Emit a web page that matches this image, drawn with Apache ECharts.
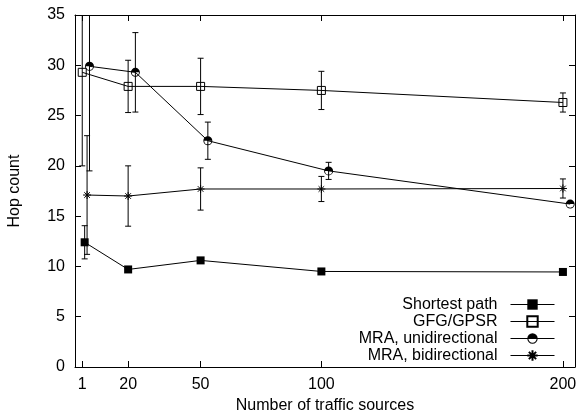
<!DOCTYPE html>
<html>
<head>
<meta charset="utf-8">
<script src="https://cdn.jsdelivr.net/npm/echarts@6/dist/echarts.min.js"></script>
<style>
  html, body { margin: 0; padding: 0; background: #fff; }
  #chart { width: 578px; height: 416px; }
</style>
</head>
<body>
<div id="chart"></div>
<script>
// x tick labels
const xTicks = [1, 20, 50, 100, 200];

// each series: x positions (slightly offset in the original plot), mean, error half-width
const shortX = [2, 20, 50, 100, 200];
const shortY = [12.4, 9.7, 10.6, 9.5, 9.45];
const shortErr = [1.65, 0, 0, 0, 0];

const gfgX = [1, 20, 50, 100, 200];
const gfgY = [29.3, 27.9, 27.9, 27.5, 26.3];
const gfgErr = [9.3, 2.6, 2.8, 1.9, 0.95];

const uniX = [4, 23, 53, 103, 203];
const uniY = [29.9, 29.3, 22.5, 19.5, 16.2];
const uniErr = [10.4, 3.95, 1.85, 0.85, 0];

const biX = [3, 20, 50, 100, 200];
const biY = [17.1, 17.0, 17.7, 17.7, 17.75];
const biErr = [5.9, 3.0, 2.1, 1.25, 0.95];

const FONT = 'Liberation Sans, Arial, sans-serif';

// half-filled circle: ring + top half disk (nonzero winding)
const HALF_CIRCLE = 'path://M0 10 A10 10 0 1 1 20 10 A10 10 0 1 1 0 10 Z ' +
  'M2 10 A8 8 0 1 0 18 10 A8 8 0 1 0 2 10 Z ' +
  'M2 10 A8 8 0 0 1 18 10 L2 10 Z';
const STAR = 'path://M0 5 L10 5 M5 0 L5 10 M1.5 1.5 L8.5 8.5 M1.5 8.5 L8.5 1.5';

const chart = echarts.init(document.getElementById('chart'));

function lineSeries(name, xs, ys, symbol, size, itemStyle) {
  return {
    name, type: 'line',
    data: xs.map((x, i) => [x, ys[i]]),
    symbol, symbolSize: size,
    showAllSymbol: true,
    lineStyle: { color: '#000', width: 1 },
    itemStyle,
    emphasis: { disabled: true },
    z: 3
  };
}

function errSeries(xs, ys, errs) {
  return {
    type: 'custom',
    clip: true,
    silent: true,
    z: 2,
    data: xs.map((x, i) => [x, ys[i] - errs[i], ys[i] + errs[i]]),
    renderItem: (params, api) => {
      const lo = api.coord([api.value(0), api.value(1)]);
      const hi = api.coord([api.value(0), api.value(2)]);
      if (Math.abs(lo[1] - hi[1]) < 1) return null;
      const w = 3;
      const style = { stroke: '#000', lineWidth: 1, fill: null };
      return {
        type: 'group',
        children: [
          { type: 'line', shape: { x1: lo[0], y1: lo[1], x2: hi[0], y2: hi[1] }, style },
          { type: 'line', shape: { x1: lo[0] - w, y1: lo[1], x2: lo[0] + w, y2: lo[1] }, style },
          { type: 'line', shape: { x1: hi[0] - w, y1: hi[1], x2: hi[0] + w, y2: hi[1] }, style }
        ]
      };
    }
  };
}

const tickStyle = { show: true, inside: true, length: 6, lineStyle: { color: '#000', width: 1 } };
const axisLine = { show: true, onZero: false, lineStyle: { color: '#000', width: 1 } };

chart.setOption({
  animation: false,
  textStyle: { fontFamily: FONT },
  grid: { left: 75, right: 3, top: 15, bottom: 49, outerBoundsMode: 'none', containLabel: false },
  legend: {
    orient: 'vertical',
    align: 'right',
    right: 23,
    top: 296,
    padding: 0,
    itemWidth: 44,
    itemHeight: 13,
    itemGap: 0,
    selectedMode: false,
    lineStyle: { width: 1 },
    textStyle: { fontFamily: FONT, fontSize: 16, color: '#000', lineHeight: 17, padding: [0, 8, 0, 0] },
    data: ['Shortest path', 'GFG/GPSR', 'MRA, unidirectional', 'MRA, bidirectional']
  },
  xAxis: [{
    type: 'value', min: -2, max: 205,
    name: 'Number of traffic sources',
    nameLocation: 'middle', nameGap: 31,
    nameTextStyle: { fontFamily: FONT, fontSize: 16, color: '#000' },
    axisLine,
    axisTick: Object.assign({ customValues: xTicks }, tickStyle),
    axisLabel: { customValues: xTicks, fontFamily: FONT, fontSize: 16, color: '#000', margin: 10 },
    splitLine: { show: false }
  }, {
    type: 'value', min: -2, max: 205, position: 'top',
    axisLine,
    axisTick: Object.assign({ customValues: xTicks }, tickStyle),
    axisLabel: { show: false },
    splitLine: { show: false }
  }],
  yAxis: [{
    type: 'value', min: 0, max: 35, interval: 5,
    name: 'Hop count',
    nameLocation: 'middle', nameGap: 52,
    nameTextStyle: { fontFamily: FONT, fontSize: 16, color: '#000' },
    axisLine,
    axisTick: tickStyle,
    axisLabel: { fontFamily: FONT, fontSize: 16, color: '#000', margin: 10 },
    splitLine: { show: false }
  }, {
    type: 'value', min: 0, max: 35, interval: 5, position: 'right',
    axisLine,
    axisTick: tickStyle,
    axisLabel: { show: false },
    splitLine: { show: false }
  }],
  series: [
    errSeries(shortX, shortY, shortErr),
    errSeries(gfgX, gfgY, gfgErr),
    errSeries(uniX, uniY, uniErr),
    errSeries(biX, biY, biErr),
    lineSeries('Shortest path', shortX, shortY, 'rect', 8,
      { color: '#000', borderWidth: 0 }),
    lineSeries('GFG/GPSR', gfgX, gfgY, 'rect', 8,
      { color: 'rgba(0,0,0,0)', borderColor: '#000', borderWidth: 1 }),
    lineSeries('MRA, unidirectional', uniX, uniY, HALF_CIRCLE, 9,
      { color: '#000', borderWidth: 0 }),
    lineSeries('MRA, bidirectional', biX, biY, STAR, 8,
      { color: '#000', borderColor: '#000', borderWidth: 1 })
  ]
});
</script>
</body>
</html>
